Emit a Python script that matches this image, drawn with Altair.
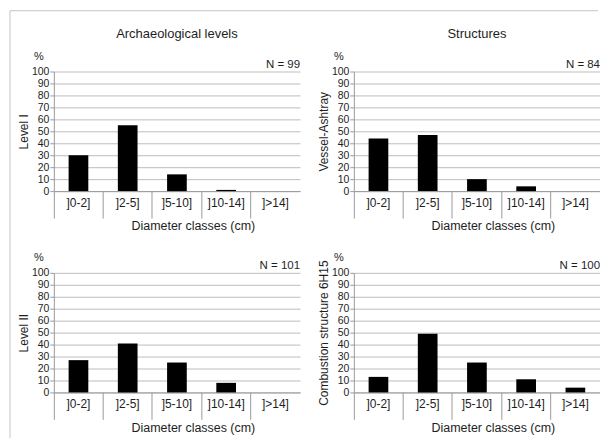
import altair as alt
import pandas as pd

categories = ["]0-2]", "]2-5]", "]5-10]", "]10-14]", "]>14]"]
panel_names = ["Level I", "Vessel-Ashtray", "Level II", "Combustion structure 6H15"]
level1 = [30, 55, 14, 1, 0]
vessel = [44, 47, 10, 4, 0]
level2 = [27, 41, 25, 8, 0]
combustion = [13, 49, 25, 11, 4]
series = [level1, vessel, level2, combustion]
n_values = [99, 84, 101, 100]
column_titles = ["Archaeological levels", "Structures"]
y_ticks = list(range(0, 101, 10))

W, H = 247, 120
FONT = "Liberation Sans"
TXT = "#1e1e1e"
AXC = "#9a9a9a"
GRID = "#bdbdbd"


def panel(i):
    df = pd.DataFrame({"cls": categories, "pct": series[i]})
    bars = alt.Chart(df).mark_bar(color="black", width=alt.RelativeBandSize(0.4)).encode(
        x=alt.X(
            "cls:N",
            sort=categories,
            scale=alt.Scale(paddingInner=0, paddingOuter=0),
            axis=alt.Axis(
                title="Diameter classes (cm)",
                bandPosition=0,
                tickSize=27,
                labelPadding=-21,
                labelAngle=0,
                labelFontSize=12,
                labelBaseline="top",
                grid=False,
                titleX=W / 2 + 16,
                titleY=29,
                titleFontSize=12.5,
                titleFontWeight="normal",
            ),
        ),
        y=alt.Y(
            "pct:Q",
            scale=alt.Scale(domain=[0, 100]),
            axis=alt.Axis(
                title=panel_names[i],
                values=y_ticks,
                tickSize=4,
                labelPadding=1,
                labelFontSize=10.5,
                grid=True,
                titlePadding=1,
                titleFontSize=12,
                titleFontWeight="normal",
            ),
        ),
    )
    pct = alt.Chart(pd.DataFrame({"t": ["%"]})).mark_text(
        font=FONT, fontSize=11, color=TXT, align="center", baseline="middle"
    ).encode(text="t:N", x=alt.value(-15), y=alt.value(-15))
    ntxt = alt.Chart(pd.DataFrame({"t": [f"N = {n_values[i]}"]})).mark_text(
        font=FONT, fontSize=11.5, color=TXT, align="right", baseline="middle"
    ).encode(text="t:N", x=alt.value(W), y=alt.value(-7))
    layers = [bars, pct, ntxt]
    if i < 2:
        ttl = alt.Chart(pd.DataFrame({"t": [column_titles[i]]})).mark_text(
            font=FONT, fontSize=13, color=TXT, align="center", baseline="middle"
        ).encode(text="t:N", x=alt.value(W / 2), y=alt.value(-38))
        layers.append(ttl)
    if i == 0:
        fr = pd.DataFrame({"a": [0]})
        top = alt.Chart(fr).mark_rule(color="#c4c4c4", strokeWidth=1, clip=False).encode(
            x=alt.value(-44), x2=alt.value(546), y=alt.value(-61)
        )
        left = alt.Chart(fr).mark_rule(color="#c4c4c4", strokeWidth=1, clip=False).encode(
            x=alt.value(-44), y=alt.value(-61), y2=alt.value(368)
        )
        layers = [top, left] + layers
    return alt.layer(*layers).properties(width=W, height=H)


chart = alt.concat(
    panel(0), panel(1), panel(2), panel(3),
    columns=2,
    spacing={"column": 54, "row": 82},
    bounds="flush",
).properties(
    padding={"left": 1, "top": 1, "right": 0, "bottom": 0}
).configure_view(stroke=None).configure_axis(
    labelFont=FONT,
    titleFont=FONT,
    labelColor=TXT,
    titleColor=TXT,
    domainColor=AXC,
    tickColor=AXC,
    gridColor=GRID,
    domainWidth=1,
    tickWidth=1,
    gridWidth=1,
)

chart.save("out.html", embed_options={"renderer": "svg", "actions": False})
